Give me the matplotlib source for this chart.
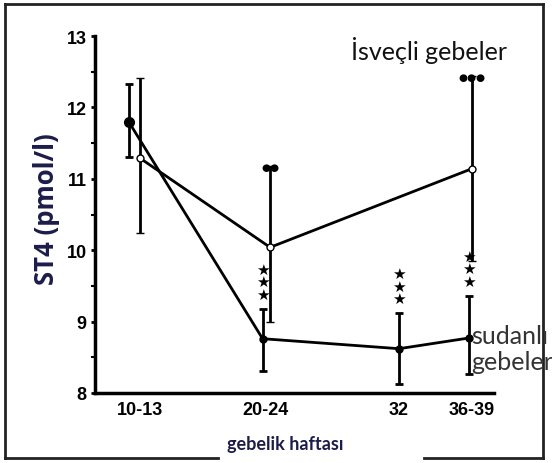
import numpy as np
import matplotlib
matplotlib.use('Agg')
from matplotlib import pyplot as plt
from matplotlib.lines import Line2D

# gebelik haftası kategorileri
weeks = ['10-13', '20-24', '32', '36-39']

# sudanlı gebeler (dolu daire)
sudan_mean = [11.80, 8.76, 8.62, 8.77]
sudan_low = [11.30, 8.31, 8.13, 8.27]
sudan_high = [12.33, 9.18, 9.12, 9.36]
sudan_stars = ['', '***', '***', '***']

# isveçli gebeler (boş daire), 32. hafta ölçümü yok
swe_mean = [11.29, 10.04, 11.14]
swe_low = [10.24, 8.99, 9.85]
swe_high = [12.41, 11.18, 12.44]
swe_weeks = ['10-13', '20-24', '36-39']
swe_stars = ['', '**', '***']

fig = plt.figure(figsize=(5.52, 4.64), dpi=100)
ax = fig.add_axes([0.172, 0.151, 0.723, 0.769])

xpos = {'10-13': 0.0, '20-24': 1.0, '32': 2.07, '36-39': 2.65}
sud_shift = [-0.09, -0.02, 0.0, -0.02]
swe_shift = [0.0, 0.04, 0.0]

xs = np.array([xpos[w] for w in weeks]) + np.array(sud_shift)
xw = np.array([xpos[w] for w in swe_weeks]) + np.array(swe_shift)

sm = np.array(sudan_mean)
ax.errorbar(xs, sm, yerr=[sm - np.array(sudan_low), np.array(sudan_high) - sm],
            fmt='-o', color='black', lw=2, elinewidth=2, capsize=3, capthick=2,
            ms=5, mfc='black', mec='black', clip_on=False, zorder=3)
ax.plot(xs[:1], sm[:1], 'o', color='black', ms=7, zorder=4)

wm = np.array(swe_mean)
ax.errorbar(xw, wm, yerr=[wm - np.array(swe_low), np.array(swe_high) - wm],
            fmt='-o', color='black', lw=2, elinewidth=2, capsize=3, capthick=2,
            ms=5, mfc='white', mec='black', mew=1, clip_on=False, zorder=3)

# anlamlılık yıldızları
for x, hi, s in zip(xs, sudan_high, sudan_stars):
    if s:
        ax.annotate('\n'.join('\u2605' * len(s)), (x, hi), xytext=(0, 5),
                    textcoords='offset points', ha='center', va='bottom',
                    fontsize=11, linespacing=0.8, color='black')
for x, hi, s in zip(xw, swe_high, swe_stars):
    if s:
        ax.annotate('\u25CF' * len(s), (x, hi), xytext=(0, -1),
                    textcoords='offset points', ha='center', va='center',
                    fontsize=7.5, color='black')

ax.set_xlim(-0.36, 2.83)
ax.set_ylim(8, 13)
ax.set_xticks([xpos[w] for w in weeks])
ax.set_xticklabels(weeks, fontweight='bold', fontsize=13, family='Liberation Sans')
ax.set_yticks(np.arange(8, 14))
ax.set_yticklabels([str(v) for v in range(8, 14)], fontweight='bold', fontsize=13,
                   family='Liberation Sans')
ax.set_yticks(np.arange(8, 13.01, 0.5), minor=True)
ax.tick_params(axis='y', which='major', length=3, width=2, pad=3)
ax.tick_params(axis='y', which='minor', length=3, width=1.5)
ax.tick_params(axis='x', length=0, pad=6)

for side in ['top', 'right']:
    ax.spines[side].set_visible(False)
for side in ['left', 'bottom']:
    ax.spines[side].set_linewidth(2.5)

fig.text(0.085, 0.55, 'ST4 (pmol/l)', rotation=90, fontsize=18.5, fontweight='bold',
         family='Open Sans', color='#1c1c4a', ha='center', va='center')

fig.text(0.636, 0.892, 'İsveçli gebeler', fontsize=18, family='Lato',
         color='#111111', ha='left', va='center')
fig.text(0.853, 0.246, 'sudanlı\ngebeler', fontsize=18, family='Lato',
         color='#333333', ha='left', va='center', linespacing=1.15)
fig.text(0.516, 0.041, 'gebelik haftası', fontsize=13, fontweight='bold',
         family='Lato', color='#1c1c4a', ha='center', va='center')

# çerçeve
frame = dict(color='#222222', lw=2)
fig.add_artist(Line2D([0.009, 0.984], [0.989, 0.989], **frame))
fig.add_artist(Line2D([0.009, 0.009], [0.011, 0.989], **frame))
fig.add_artist(Line2D([0.984, 0.984], [0.011, 0.989], **frame))
fig.add_artist(Line2D([0.009, 0.395], [0.011, 0.011], **frame))
fig.add_artist(Line2D([0.768, 0.984], [0.011, 0.011], **frame))

fig.savefig('out.png', dpi=100)
